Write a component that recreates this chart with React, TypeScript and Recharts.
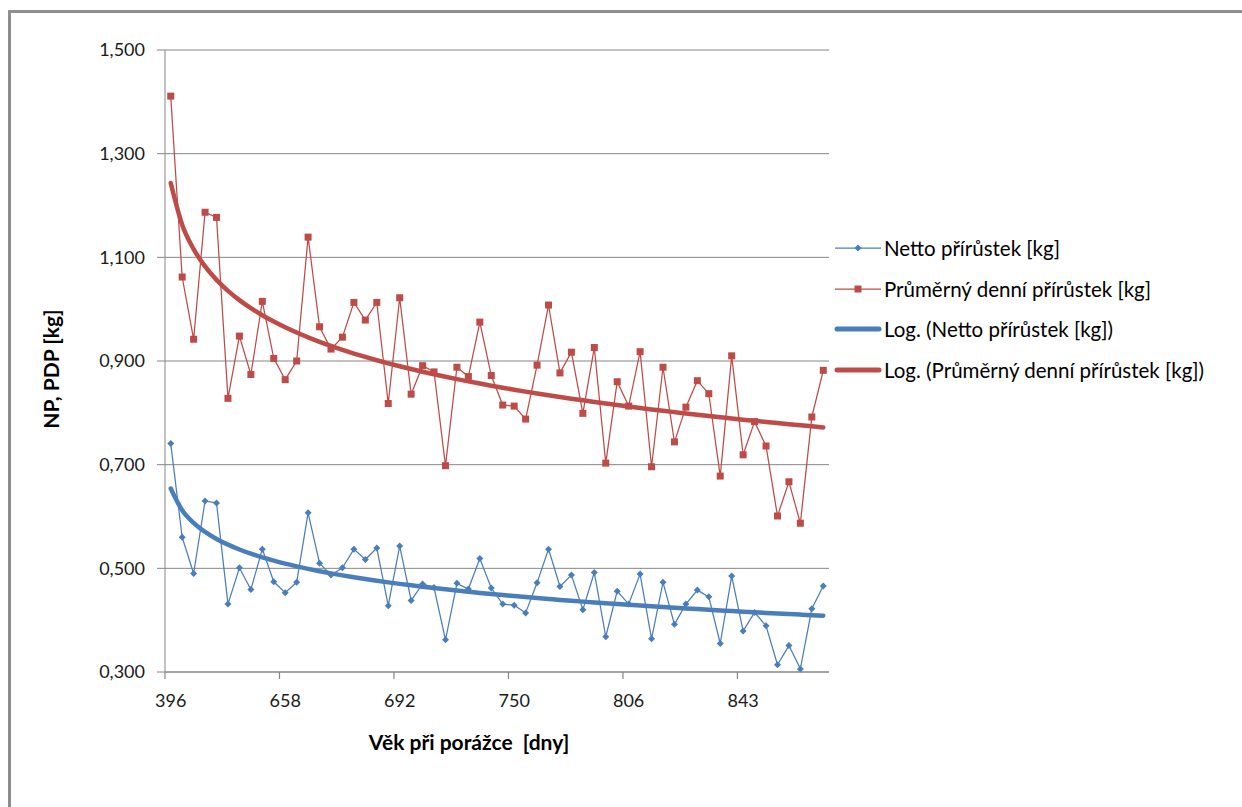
import { LineChart, Line, XAxis, YAxis, CartesianGrid } from "recharts";

// visible x labels (every 10th category)
const TICK_LABELS = ["396", "658", "692", "750", "806", "843"];

const NETTO = [
  0.741, 0.56, 0.49, 0.63, 0.626, 0.431, 0.501, 0.459, 0.537, 0.474,
  0.453, 0.473, 0.607, 0.51, 0.487, 0.501, 0.537, 0.517, 0.539, 0.428,
  0.543, 0.438, 0.47, 0.463, 0.362, 0.471, 0.46, 0.519, 0.462, 0.431,
  0.429, 0.414, 0.472, 0.537, 0.465, 0.487, 0.42, 0.492, 0.368, 0.456,
  0.431, 0.489, 0.364, 0.473, 0.392, 0.431, 0.458, 0.445, 0.355, 0.485,
  0.379, 0.415, 0.389, 0.314, 0.351, 0.306, 0.422, 0.466,
];

const PDP = [
  1.411, 1.062, 0.942, 1.187, 1.177, 0.828, 0.948, 0.874, 1.015, 0.905,
  0.864, 0.9, 1.139, 0.966, 0.923, 0.946, 1.013, 0.979, 1.013, 0.818,
  1.022, 0.836, 0.891, 0.879, 0.698, 0.888, 0.87, 0.975, 0.872, 0.815,
  0.813, 0.788, 0.892, 1.008, 0.877, 0.917, 0.799, 0.926, 0.703, 0.86,
  0.813, 0.918, 0.696, 0.888, 0.744, 0.811, 0.862, 0.837, 0.678, 0.91,
  0.719, 0.783, 0.736, 0.601, 0.667, 0.587, 0.792, 0.882,
];

const Y_TICKS = [0.3, 0.5, 0.7, 0.9, 1.1, 1.3, 1.5];

const BLUE = "#4a7ebb";
const RED = "#be4b48";
const FONT = "Lato, 'Open Sans', sans-serif";

// Excel-style logarithmic trend: y = a + b*ln(x), x = 1..n
function logFit(ys: number[]) {
  const n = ys.length;
  const lx = ys.map((_, i) => Math.log(i + 1));
  const mx = lx.reduce((s, v) => s + v, 0) / n;
  const my = ys.reduce((s, v) => s + v, 0) / n;
  let sxy = 0;
  let sxx = 0;
  lx.forEach((v, i) => {
    sxy += (v - mx) * (ys[i] - my);
    sxx += (v - mx) * (v - mx);
  });
  const b = sxy / sxx;
  const a = my - b * mx;
  return lx.map((v) => a + b * v);
}

const nettoTrend = logFit(NETTO);
const pdpTrend = logFit(PDP);

const data = NETTO.map((v, i) => ({
  idx: i,
  netto: v,
  pdp: PDP[i],
  nettoLog: nettoTrend[i],
  pdpLog: pdpTrend[i],
}));

const Diamond = (p: any) => {
  const { cx, cy } = p;
  if (cx == null || cy == null) return null;
  return (
    <path
      key={`d-${p.index}`}
      d={`M${cx},${cy - 3.5}L${cx + 3.5},${cy}L${cx},${cy + 3.5}L${cx - 3.5},${cy}Z`}
      fill={BLUE}
    />
  );
};

const Square = (p: any) => {
  const { cx, cy } = p;
  if (cx == null || cy == null) return null;
  return <rect key={`s-${p.index}`} x={cx - 3.5} y={cy - 3.5} width={7} height={7} fill={RED} />;
};

// label on the category centre, tick mark on the category boundary (Excel style)
const XTick = (p: any) => {
  const { x, y, payload } = p;
  const half = payload.offset || 5.72;
  const label = TICK_LABELS[payload.value / 10] ?? "";
  return (
    <g>
      <line x1={x - half} x2={x - half} y1={y} y2={y + 7} stroke="#868686" strokeWidth={1.2} />
      <text x={x} y={y + 35} textAnchor="middle" fontSize={18} fill="#1a1a1a" fontFamily={FONT}>
        {label}
      </text>
    </g>
  );
};

const LEGEND = [
  { label: "Netto přírůstek [kg]", color: BLUE, thick: false, marker: "diamond" },
  { label: "Průměrný denní přírůstek [kg]", color: RED, thick: false, marker: "square" },
  { label: "Log. (Netto přírůstek [kg])", color: BLUE, thick: true, marker: "" },
  { label: "Log. (Průměrný denní přírůstek [kg])", color: RED, thick: true, marker: "" },
];

export default function App() {
  return (
    <div style={{ position: "absolute", left: 0, top: 0, width: 1242, height: 807, background: "#fff", overflow: "hidden" }}>
      <div
        style={{
          position: "absolute",
          left: 8,
          top: 10,
          width: 1242,
          height: 807,
          borderTop: "3px solid #8e8e8e",
          borderLeft: "3px solid #8e8e8e",
        }}
      />
      <div style={{ position: "absolute", left: 0, top: 0 }}>
        <LineChart
          width={1242}
          height={807}
          data={data}
          margin={{ top: 50, right: 413, bottom: 75, left: 85 }}
        >
          <CartesianGrid vertical={false} stroke="#868686" strokeWidth={1} />
          <XAxis
            dataKey="idx"
            type="category"
            scale="band"
            interval={9}
            tickLine={false}
            tickSize={0}
            tickMargin={0}
            axisLine={{ stroke: "#868686" }}
            tick={<XTick />}
            height={60}
            label={{
              value: "Věk při porážce\u00a0 [dny]",
              position: "insideBottom",
              offset: 0,
              dx: -28,
              dy: 18,
              style: { fontFamily: FONT, fontSize: 21, fontWeight: 700, fill: "#000" },
            }}
          />
          <YAxis
            domain={[0.3, 1.5]}
            ticks={Y_TICKS}
            width={80}
            tickSize={8}
            tickMargin={12}
            tickLine={{ stroke: "#868686" }}
            axisLine={{ stroke: "#868686" }}
            tickFormatter={(v: number) => v.toFixed(3).replace(".", ",")}
            tick={{ fontSize: 18, fill: "#1a1a1a", fontFamily: FONT }}
            label={{
              value: "NP, PDP [kg]",
              angle: -90,
              position: "insideLeft",
              offset: 0,
              dx: -33,
              dy: 8,
              style: { fontFamily: FONT, fontSize: 21, fontWeight: 700, fill: "#000", textAnchor: "middle" },
            }}
          />
          <Line
            dataKey="netto"
            stroke={BLUE}
            strokeWidth={1.25}
            dot={Diamond}
            activeDot={false}
            isAnimationActive={false}
          />
          <Line
            dataKey="pdp"
            stroke={RED}
            strokeWidth={1.25}
            dot={Square}
            activeDot={false}
            isAnimationActive={false}
          />
          <Line
            dataKey="nettoLog"
            type="monotone"
            stroke={BLUE}
            strokeWidth={4.5}
            strokeLinecap="round"
            dot={false}
            activeDot={false}
            isAnimationActive={false}
          />
          <Line
            dataKey="pdpLog"
            type="monotone"
            stroke={RED}
            strokeWidth={4.5}
            strokeLinecap="round"
            dot={false}
            activeDot={false}
            isAnimationActive={false}
          />
        </LineChart>
      </div>
      <div style={{ position: "absolute", left: 833, top: 228, fontFamily: FONT, fontSize: 20.5, color: "#000" }}>
        {LEGEND.map((it, i) => (
          <div key={i} style={{ display: "flex", alignItems: "center", height: 40.5 }}>
            <svg width={50} height={12} style={{ flex: "none" }}>
              <line
                x1={it.thick ? 4 : 2}
                x2={it.thick ? 46 : 48}
                y1={6}
                y2={6}
                stroke={it.color}
                strokeWidth={it.thick ? 5 : 1.25}
                strokeLinecap={it.thick ? "round" : "butt"}
              />
              {it.marker === "diamond" && <path d="M25,2.5L28.5,6L25,9.5L21.5,6Z" fill={it.color} />}
              {it.marker === "square" && <rect x={21.5} y={2.5} width={7} height={7} fill={it.color} />}
            </svg>
            <span style={{ whiteSpace: "nowrap", marginLeft: 1 }}>{it.label}</span>
          </div>
        ))}
      </div>
    </div>
  );
}
